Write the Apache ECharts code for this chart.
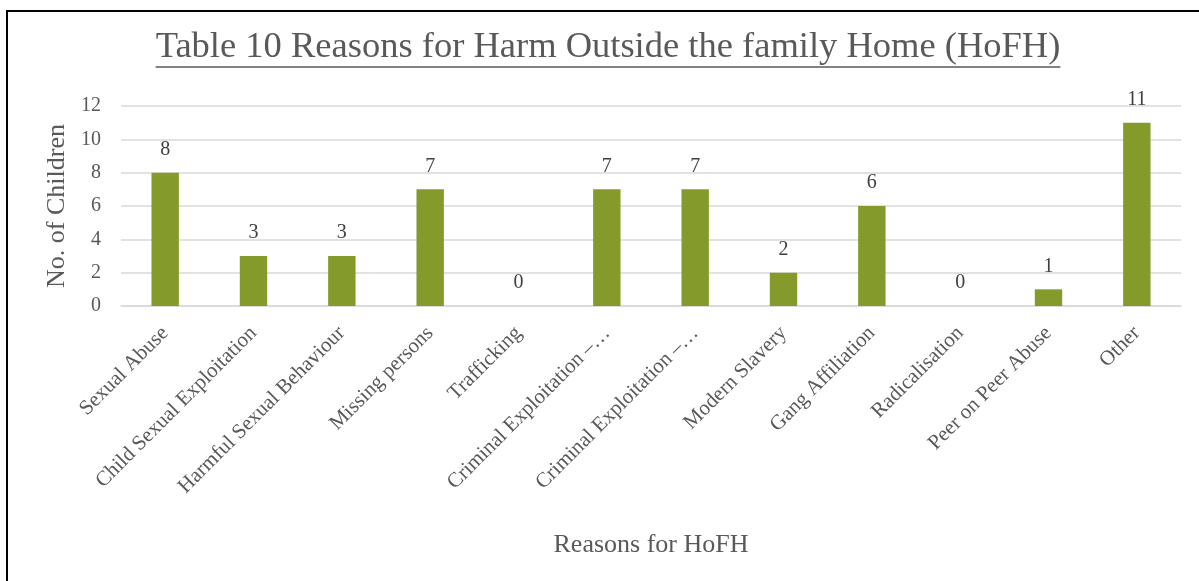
<!DOCTYPE html>
<html>
<head>
<meta charset="utf-8">
<script src="https://cdn.jsdelivr.net/npm/echarts@6/dist/echarts.min.js"></script>
<style>
  html, body { margin: 0; padding: 0; background: #fff; }
  #chart { width: 1199px; height: 581px; }
</style>
</head>
<body>
<div id="chart"></div>
<script>
// data
const categories = [
  'Sexual Abuse',
  'Child Sexual Exploitation',
  'Harmful Sexual Behaviour',
  'Missing persons',
  'Trafficking',
  'Criminal Exploitation \u2013\u2026',
  'Criminal Exploitation \u2013\u2026',
  'Modern Slavery',
  'Gang Affiliation',
  'Radicalisation',
  'Peer on Peer Abuse',
  'Other'
]
const childCounts = [8, 3, 3, 7, 0, 7, 7, 2, 6, 0, 1, 11]
const yTicks = { min: 0, max: 12, interval: 2 }

const titleText = 'Table 10 Reasons for Harm Outside the family Home (HoFH)'
const fontFamily = "'Liberation Serif', 'DejaVu Serif', serif"
const titleSize = 36.5
const grey = '#595959'

// measure title so it can be centred and underlined
const ctx = document.createElement('canvas').getContext('2d')
ctx.font = titleSize + 'px ' + fontFamily
const titleWidth = ctx.measureText(titleText).width
const titleCenterX = 608
const underlineY = 67

const chart = echarts.init(document.getElementById('chart'))

chart.setOption({
  backgroundColor: '#ffffff',
  animation: false,
  title: {
    text: titleText,
    left: titleCenterX - titleWidth / 2 - 5,
    top: 24,
    textStyle: {
      fontFamily: fontFamily,
      fontSize: titleSize,
      fontWeight: 'normal',
      color: grey
    }
  },
  graphic: [
    // frame lines (top and left)
    { type: 'line', shape: { x1: 6, y1: 11, x2: 1199, y2: 11 }, style: { stroke: '#000', lineWidth: 2 } },
    { type: 'line', shape: { x1: 7, y1: 11, x2: 7, y2: 581 }, style: { stroke: '#000', lineWidth: 2 } },
    // title underline
    {
      type: 'line',
      shape: { x1: titleCenterX - titleWidth / 2, y1: underlineY, x2: titleCenterX + titleWidth / 2, y2: underlineY },
      style: { stroke: grey, lineWidth: 1.5 }
    }
  ],
  grid: {
    left: 121,
    right: 18,
    top: 106,
    bottom: 275,
    containLabel: false
  },
  xAxis: {
    type: 'category',
    data: categories,
    name: 'Reasons for HoFH',
    nameLocation: 'middle',
    nameGap: 226,
    nameTextStyle: { fontFamily: fontFamily, fontSize: 26, color: grey },
    axisLine: { lineStyle: { color: '#d9d9d9', width: 1.5 } },
    axisTick: { show: false },
    axisLabel: {
      interval: 0,
      rotate: 45,
      margin: 24,
      fontFamily: fontFamily,
      fontSize: 21,
      color: grey
    }
  },
  yAxis: {
    type: 'value',
    min: yTicks.min,
    max: yTicks.max,
    interval: yTicks.interval,
    name: 'No. of Children',
    nameLocation: 'middle',
    nameGap: 50,
    nameTextStyle: { fontFamily: fontFamily, fontSize: 26, color: grey },
    axisLine: { show: false },
    axisTick: { show: false },
    axisLabel: {
      margin: 20,
      fontFamily: fontFamily,
      fontSize: 20,
      color: grey
    },
    splitLine: { lineStyle: { color: '#d9d9d9', width: 1.5 } }
  },
  series: [
    {
      type: 'bar',
      data: childCounts,
      barWidth: '31%',
      itemStyle: { color: '#849a2a' },
      label: {
        show: true,
        position: 'top',
        distance: 13,
        fontFamily: fontFamily,
        fontSize: 20,
        color: '#404040'
      }
    }
  ]
})
</script>
</body>
</html>
